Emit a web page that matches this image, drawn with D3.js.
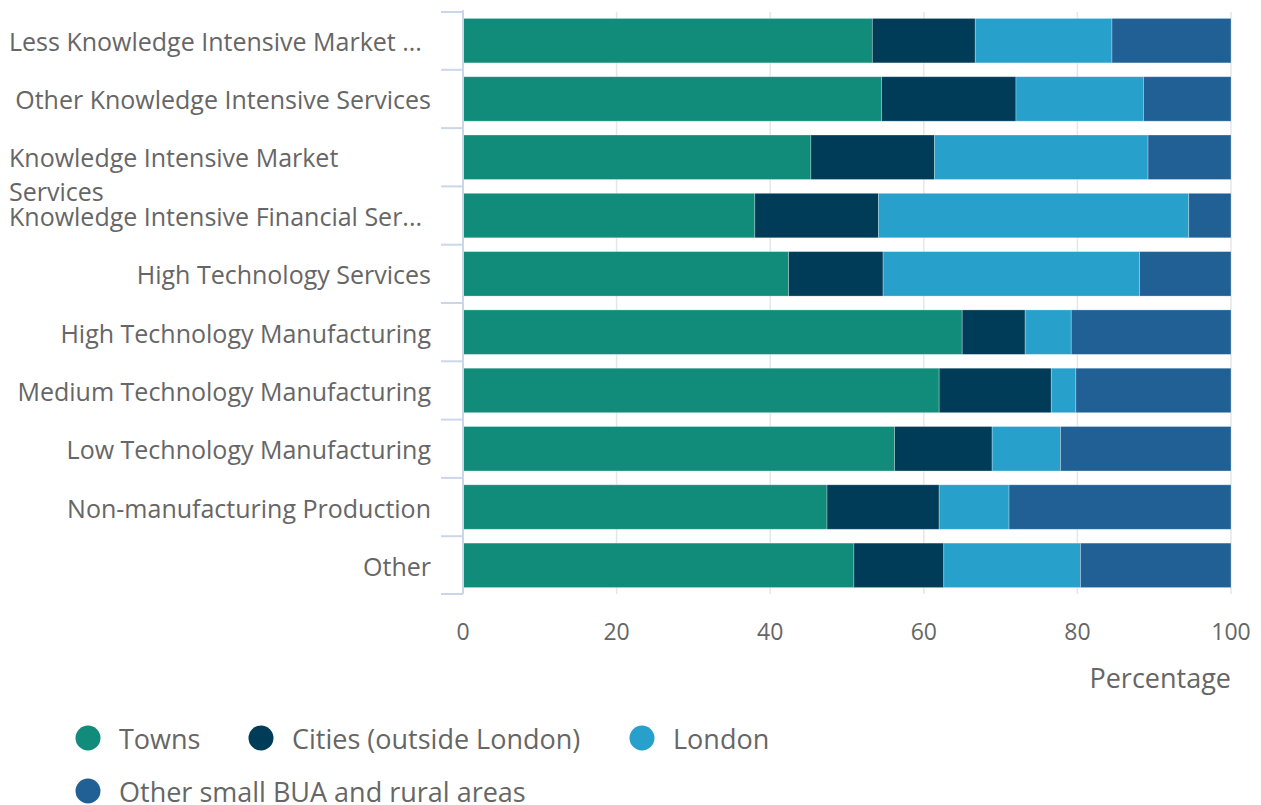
<!DOCTYPE html>
<html><head><meta charset="utf-8">
<script src="https://cdn.jsdelivr.net/npm/d3@7"></script>
<style>
html,body{margin:0;padding:0;background:#fff;}
svg{display:block;font-family:"Open Sans",sans-serif;}
</style></head>
<body>
<svg id="c" width="1261" height="805"></svg>
<script>
const categories = [
  "Less Knowledge Intensive Market Services",
  "Other Knowledge Intensive Services",
  "Knowledge Intensive Market Services",
  "Knowledge Intensive Financial Services",
  "High Technology Services",
  "High Technology Manufacturing",
  "Medium Technology Manufacturing",
  "Low Technology Manufacturing",
  "Non-manufacturing Production",
  "Other"
];
const tickLabels = [
  ["Less Knowledge Intensive Market ..."],
  ["Other Knowledge Intensive Services"],
  ["Knowledge Intensive Market", "Services"],
  ["Knowledge Intensive Financial Ser..."],
  ["High Technology Services"],
  ["High Technology Manufacturing"],
  ["Medium Technology Manufacturing"],
  ["Low Technology Manufacturing"],
  ["Non-manufacturing Production"],
  ["Other"]
];
const seriesNames = ["Towns", "Cities (outside London)", "London", "Other small BUA and rural areas"];
const towns  = [53.3, 54.5, 45.3, 38.0, 42.4, 65.0, 62.0, 56.2, 47.4, 50.9];
const cities = [13.4, 17.5, 16.1, 16.1, 12.3,  8.2, 14.6, 12.7, 14.6, 11.7];
const london = [17.8, 16.6, 27.8, 40.4, 33.4,  6.0,  3.2,  8.9,  9.1, 17.8];
const otherRural = [15.5, 11.4, 10.8, 5.5, 11.9, 20.8, 20.2, 22.2, 28.9, 19.6];
const xTicks = [0, 20, 40, 60, 80, 100];
const colors = ["#118c7b", "#003c57", "#27a0cc", "#206095"];

const svg = d3.select("#c");
const x = d3.scaleLinear().domain([0, 100]).range([463, 1231]);
const y = d3.scaleBand().domain(categories).range([12, 594]).paddingInner(0.237).paddingOuter(0.11);

// gridlines
svg.append("g").selectAll("line").data(xTicks.filter(d => d > 0)).join("line")
  .attr("x1", d => x(d)).attr("x2", d => x(d)).attr("y1", 12).attr("y2", 594)
  .attr("stroke", "#e6e6e6").attr("stroke-width", 1.5);

// stacked data
const rows = categories.map((c, i) => ({cat: c, v: [towns[i], cities[i], london[i], otherRural[i]]}));
const stackData = rows.map(r => { const o = {cat: r.cat}; seriesNames.forEach((s, j) => o[s] = r.v[j]); return o; });
const stack = d3.stack().keys(seriesNames)(stackData);

svg.append("g").selectAll("g").data(stack).join("g")
  .attr("fill", (d, i) => colors[i])
  .selectAll("rect").data(d => d).join("rect")
  .attr("x", d => x(d[0])).attr("width", d => x(d[1]) - x(d[0]))
  .attr("y", d => y(d.data.cat)).attr("height", y.bandwidth())
  .attr("stroke", "#ffffff").attr("stroke-opacity", 0.35).attr("stroke-width", 0.8);

// y axis line and ticks at band boundaries
const axisCol = "#ccd6eb";
svg.append("line").attr("x1", 463).attr("x2", 463).attr("y1", 10).attr("y2", 594)
  .attr("stroke", axisCol).attr("stroke-width", 2);
const bounds = categories.map(c => y(c) - y.step() * y.paddingInner() / 2).concat([594]);
bounds[0] = 12;
svg.append("g").selectAll("line").data(bounds).join("line")
  .attr("x1", 441).attr("x2", 463).attr("y1", d => d).attr("y2", d => d)
  .attr("stroke", axisCol).attr("stroke-width", 2);

// category labels
const lab = svg.append("g").attr("font-size", 25).attr("fill", "#666666");
categories.forEach((c, i) => {
  const lines = tickLabels[i];
  const cy = y(c) + y.bandwidth() / 2;
  if (lines.length === 1 && !lines[0].endsWith("...")) {
    lab.append("text").attr("x", 431).attr("y", cy + 10.5)
      .attr("text-anchor", "end").text(lines[0]);
  } else {
    lines.forEach((l, k) => {
      lab.append("text").attr("x", 9).attr("y", cy + 10 + k * 34)
        .attr("text-anchor", "start").text(l);
    });
  }
});

// x axis labels
const xa = svg.append("g").attr("fill", "#666666");
xa.selectAll("text").data(xTicks).join("text")
  .attr("font-size", 23)
  .attr("x", d => x(d)).attr("y", 632).attr("dy", "0.36em")
  .attr("text-anchor", "middle").text(d => d);
xa.append("text").attr("font-size", 27).attr("x", 1231).attr("y", 678).attr("dy", "0.36em")
  .attr("text-anchor", "end").text("Percentage");

// legend
const legendPos = [[88, 738], [261, 738], [642, 738], [88, 791]];
const lg = svg.append("g").attr("font-size", 27).attr("fill", "#666666");
seriesNames.forEach((s, i) => {
  const [cx, cy] = legendPos[i];
  lg.append("circle").attr("cx", cx).attr("cy", cy).attr("r", 12.5).attr("fill", colors[i]);
  lg.append("text").attr("x", cx + 31).attr("y", cy + 1).attr("dy", "0.36em").text(s);
});
</script>
</body></html>
